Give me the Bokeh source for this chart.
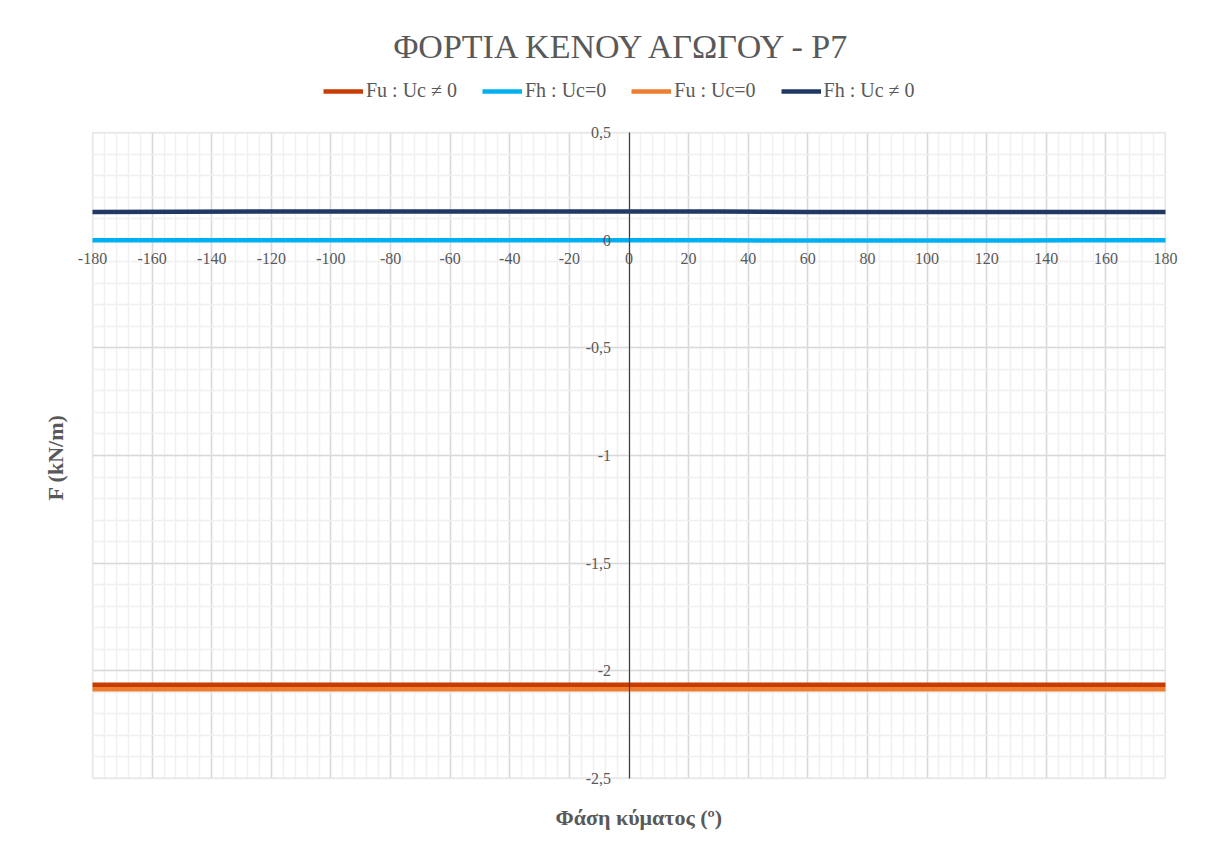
from bokeh.plotting import figure
from bokeh.models import (Range1d, FixedTicker, Legend, LegendItem, Title, BoxAnnotation)
from bokeh.embed import file_html
from bokeh.resources import INLINE

# ---- data ----
phase = [-180, -150, -120, -90, -60, -30, 0, 30, 60, 90, 120, 150, 180]
fu_uc = [-2.065, -2.065, -2.065, -2.065, -2.065, -2.065, -2.065, -2.065, -2.065, -2.065, -2.065, -2.065, -2.065]
fh_0 = [0.000, 0.000, 0.000, 0.000, 0.000, 0.000, 0.000, 0.000, -0.002, -0.002, -0.002, 0.000, 0.000]
fu_0 = [-2.085, -2.085, -2.085, -2.085, -2.085, -2.085, -2.085, -2.085, -2.085, -2.085, -2.085, -2.085, -2.085]
fh_uc = [0.131, 0.132, 0.133, 0.133, 0.133, 0.133, 0.133, 0.133, 0.131, 0.131, 0.131, 0.131, 0.131]

series_names = ["Fu : Uc \u2260 0", "Fh : Uc=0", "Fu : Uc=0", "Fh : Uc \u2260 0"]
series_colors = ["#C83C00", "#00B0F0", "#ED7D31", "#1F3864"]

X_MIN, X_MAX = -180, 180
Y_MIN, Y_MAX = -2.5, 0.5
x_major = list(range(-180, 181, 20))
x_minor = list(range(-180, 181, 4))
x_labels = {t: str(t) for t in x_major}
y_major = [-2.5, -2, -1.5, -1, -0.5, 0, 0.5]
y_minor = [round(-2.5 + 0.1 * i, 1) for i in range(31)]
y_labels = {-2.5: "-2,5", -2: "-2", -1.5: "-1,5", -1: "-1", -0.5: "-0,5", 0: "0", 0.5: "0,5"}

title_text = "ΦΟΡΤΙΑ ΚΕΝΟΥ ΑΓΩΓΟΥ - P7"
xlabel_text = "Φάση κύματος (º)"
ylabel_text = "F (kN/m)"

FONT = "Liberation Serif"
GRAY = "#595959"

# layout: plot area 92..1165 x 132..778 px; the frame is padded (white) so edge labels are not clipped
PX_X = 1073 / 360.0
PX_Y = 646 / 3.0
PAD_L, PAD_R, PAD_T, PAD_B = 20, 20, 68, 15
x_rng = Range1d(X_MIN - PAD_L / PX_X, X_MAX + PAD_R / PX_X)
y_rng = Range1d(Y_MIN - PAD_B / PX_Y, Y_MAX + PAD_T / PX_Y)

p = figure(width=1220, height=854, output_backend="svg", toolbar_location=None,
           x_range=x_rng, y_range=y_rng,
           min_border_left=92 - PAD_L, min_border_right=1220 - 1165 - PAD_R,
           min_border_top=132 - PAD_T, min_border_bottom=854 - 778 - PAD_B)
p.title = None
p.outline_line_color = None
p.background_fill_color = "white"
p.border_fill_color = "white"

p.xgrid.grid_line_color = "#d9d9d9"
p.ygrid.grid_line_color = "#d9d9d9"
p.xgrid.grid_line_width = 1.5
p.ygrid.grid_line_width = 1.5
p.xgrid.minor_grid_line_color = "#f0f0f0"
p.ygrid.minor_grid_line_color = "#f0f0f0"
p.xgrid.minor_grid_line_width = 1.5
p.ygrid.minor_grid_line_width = 1.5

# white masks over the padding, then the plot-area border
for kw in (dict(bottom=Y_MAX), dict(top=Y_MIN), dict(right=X_MIN), dict(left=X_MAX)):
    p.add_layout(BoxAnnotation(fill_color="white", fill_alpha=1, line_color=None,
                               level="underlay", **kw))
p.add_layout(BoxAnnotation(left=X_MIN, right=X_MAX, bottom=Y_MIN, top=Y_MAX,
                           fill_alpha=0, line_color="#d9d9d9", line_width=1.5,
                           level="underlay"))

# axes at data zero
for ax in (p.xaxis[0], p.yaxis[0]):
    ax.fixed_location = 0
    ax.major_tick_line_color = None
    ax.minor_tick_line_color = None
    ax.axis_line_color = "#404040"
    ax.axis_line_width = 1.2
    ax.major_label_text_font = FONT
    ax.major_label_text_font_size = "16px"
    ax.major_label_text_color = GRAY

p.xaxis.axis_line_color = None  # hidden under the Fh : Uc=0 series in the reference
p.xaxis.bounds = (X_MIN, X_MAX)
p.yaxis.bounds = (Y_MIN, Y_MAX)
p.xaxis.ticker = FixedTicker(ticks=x_major, minor_ticks=x_minor)
p.yaxis.ticker = FixedTicker(ticks=y_major, minor_ticks=y_minor)
p.xaxis.major_label_standoff = 7
p.yaxis.major_label_standoff = 12
p.xaxis.major_label_overrides = x_labels
p.yaxis.major_label_overrides = y_labels

items = []
for name, col, ys in zip(series_names, series_colors, [fu_uc, fh_0, fu_0, fh_uc]):
    r = p.line(phase, ys, line_color=col, line_width=4.5)
    items.append(LegendItem(label=name, renderers=[r]))

legend = Legend(items=items, orientation="horizontal", location=(251, 691),
                label_text_font=FONT, label_text_font_size="20px", label_text_color=GRAY,
                glyph_width=40, glyph_height=20, label_standoff=3, spacing=25,
                border_line_color=None, background_fill_alpha=0, padding=2, margin=0)
p.add_layout(legend, "center")

p.add_layout(Title(text=title_text, align="left", text_font=FONT, text_font_size="34px",
                   text_font_style="normal", text_color=GRAY, standoff=0, offset=321), "above")
p.add_layout(Title(text=ylabel_text, align="left", text_font=FONT, text_font_size="22px",
                   text_font_style="bold", text_color=GRAY, standoff=9, offset=293), "left")
p.add_layout(Title(text=xlabel_text, align="left", text_font=FONT, text_font_size="22px",
                   text_font_style="bold", text_color=GRAY, standoff=19, offset=483), "below")

open("out.html", "w").write(file_html(p, INLINE))
